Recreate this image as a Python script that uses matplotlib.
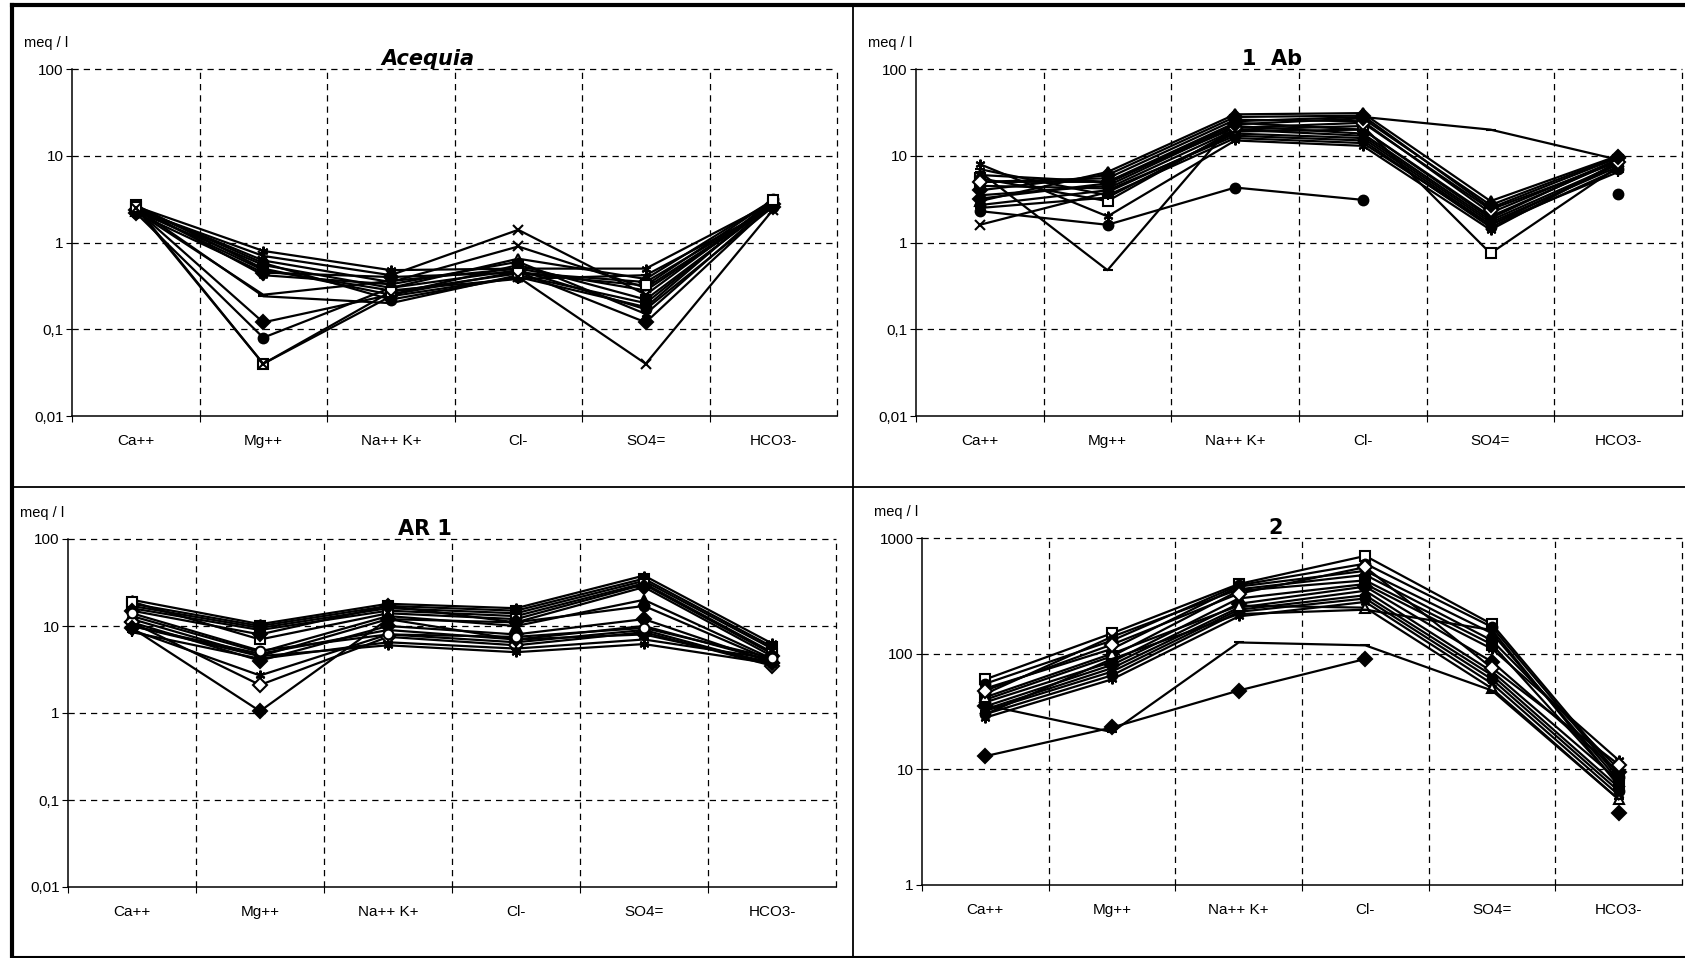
import numpy as np
import matplotlib
matplotlib.use('Agg')
from matplotlib import pyplot as plt
from matplotlib.lines import Line2D

nan = np.nan

# Iones (eje x)
ions = ['Ca++', 'Mg++', 'Na++ K+', 'Cl-', 'SO4=', 'HCO3-']

# Acequia  (Ca, Mg, NaK, Cl, SO4, HCO3) en meq/l
acequia = [
    [2.6, 0.80, 0.48, 0.50, 0.50, 2.9],
    [2.4, 0.70, 0.42, 1.40, 0.25, 3.0],
    [2.5, 0.62, 0.35, 0.90, 0.30, 2.7],
    [2.3, 0.55, 0.30, 0.65, 0.38, 3.1],
    [2.7, 0.50, 0.25, 0.55, 0.22, 2.8],
    [2.2, 0.45, 0.40, 0.45, 0.35, 2.6],
    [2.5, 0.58, 0.22, 0.40, 0.18, 3.2],
    [2.4, 0.48, 0.28, 0.38, 0.42, 2.5],
    [2.6, 0.42, 0.33, 0.60, 0.15, 2.9],
    [2.3, 0.25, 0.36, 0.50, 0.28, 2.7],
    [2.5, 0.24, 0.20, 0.42, 0.20, 3.0],
    [2.4, 0.12, 0.25, 0.46, 0.12, 2.8],
    [2.2, 0.08, 0.30, 0.48, 0.17, 2.6],
    [2.6, 0.04, 0.27, 0.44, 0.32, 3.1],
    [2.5, 0.04, 0.24, 0.40, 0.04, 2.4],
]

# 1 Ab
ab1 = [
    [8.0, 2.0, 15, 13, 1.4, 8.5],
    [6.5, 0.48, 25, 28, 20, 9.0],
    [1.6, 3.8, 18, 16, 1.6, 8.0],
    [2.3, 1.6, 4.3, 3.1, nan, 3.6],
    [5.5, 3.0, 20, 22, 0.75, 7.5],
    [3.0, 6.5, 30, 31, 3.0, 10],
    [4.0, 6.0, 28, 29, 2.5, 9.5],
    [5.0, 5.5, 26, 25, 2.2, 9.0],
    [6.0, 5.0, 24, 20, 2.0, 8.8],
    [3.5, 4.5, 22, 18, 1.8, 8.0],
    [4.5, 4.2, 20, 17, 1.7, 7.5],
    [2.7, 4.0, 17, 15, 1.5, 7.0],
    [7.0, 3.5, 16, 14, 1.6, 6.5],
    [5.0, 5.0, 21, 24, 2.4, 8.5],
    [2.5, 3.3, 19, 20, 1.9, 9.2],
    [3.2, 4.8, 23, 27, 2.7, 9.8],
]

# AR 1
ar1 = [
    [20, 10.5, 18, 16, 38, 6.3],
    [18, 10.0, 17, 15, 35, 5.8],
    [17, 9.5, 16, 14, 33, 5.5],
    [16, 9.0, 15, 13, 31, 5.0],
    [19, 7.0, 14, 12, 30, 4.8],
    [15, 8.0, 17, 11, 28, 4.5],
    [13, 5.0, 13, 10, 20, 4.2],
    [12, 4.5, 12, 11, 17, 4.0],
    [11, 4.0, 10, 8, 12, 3.8],
    [10, 4.8, 9, 7, 10, 4.0],
    [9, 2.7, 8, 6.5, 9, 3.6],
    [11, 2.1, 7.5, 6, 8.5, 3.5],
    [9.5, 1.05, 12, 7, 8, 3.8],
    [8.5, 4.2, 6.5, 5.5, 7, 4.2],
    [10, 4.5, 6.0, 5.0, 6.2, 3.7],
    [14, 5.2, 8.0, 7.5, 9.5, 4.3],
]

# 2
p2 = [
    [60, 150, 400, 700, 180, 9.0],
    [55, 130, 390, 600, 170, 8.5],
    [50, 110, 380, 520, 150, 8.0],
    [45, 140, 360, 480, 130, 10],
    [40, 95, 350, 430, 120, 7.5],
    [38, 85, 300, 400, 110, 12],
    [35, 80, 270, 380, 85, 9.5],
    [33, 75, 250, 350, 70, 8.0],
    [32, 70, 240, 320, 65, 7.0],
    [30, 65, 230, 300, 60, 6.5],
    [28, 60, 210, 280, 55, 6.0],
    [42, 100, 260, 250, 50, 5.5],
    [36, 21, 125, 118, 48, 5.5],
    [13, 23, 48, 90, nan, 4.2],
    [48, 120, 330, 560, 75, 11],
    [30, 90, 220, 240, 160, 7.2],
]

# Marcadores estilo Excel (estilo, no datos)
MK = {
    'D': dict(marker='D', mfc='k'),
    'Do': dict(marker='D', mfc='w'),
    's': dict(marker='s', mfc='k'),
    'so': dict(marker='s', mfc='w'),
    '^': dict(marker='^', mfc='k'),
    '^o': dict(marker='^', mfc='w'),
    'x': dict(marker='x'),
    '*': dict(marker=(6, 2, 0)),
    'o': dict(marker='o', mfc='k'),
    'oo': dict(marker='o', mfc='w'),
    '+': dict(marker='+'),
    '_': dict(marker='_'),
}
marks_acequia = ['*', 'x', 'x', '^o', 's', 'D', 'o', '+', '*', '_', '_', 'D', 'o', 'so', 'x']
marks_ab1 = ['*', '_', 'x', 'o', 'so', '^o', 'D', 's', '^', 'x', '*', 'o', '+', 'Do', '_', 'D']
marks_ar1 = ['*', 's', '^', 'x', 'so', 'D', '^', 'o', 'D', 'x', '*', 'Do', 'D', '+', '*', 'oo']
marks_p2 = ['so', 'o', '^', 'x', 's', '*', 'D', 'x', '+', 'o', '*', '^o', '_', 'D', 'Do', '_']

plt.rcParams['font.family'] = ['Liberation Sans', 'DejaVu Sans']

fig = plt.figure(figsize=(16.85, 9.58), dpi=100)
W, H = 1685., 958.


def box(l, t, r, b):
    return [l / W, 1 - b / H, (r - l) / W, (b - t) / H]


panels = [
    ('Acequia', acequia, marks_acequia, box(72, 69, 837, 416), [0.01, 0.1, 1, 10, 100], ['0,01', '0,1', '1', '10', '100'], 'italic'),
    ('1  Ab', ab1, marks_ab1, box(916, 69, 1682, 416), [0.01, 0.1, 1, 10, 100], ['0,01', '0,1', '1', '10', '100'], 'normal'),
    ('AR 1', ar1, marks_ar1, box(68, 539, 836, 887), [0.01, 0.1, 1, 10, 100], ['0,01', '0,1', '1', '10', '100'], 'normal'),
    ('2', p2, marks_p2, box(922, 538, 1682, 885), [1, 10, 100, 1000], ['1', '10', '100', '1000'], 'normal'),
]

x = np.arange(len(ions)) + 0.5
for title, series, marks, rect, yt, ytl, tstyle in panels:
    ax = fig.add_axes(rect)
    ax.set_yscale('log')
    ax.set_xlim(0, 6)
    ax.set_ylim(yt[0], yt[-1])

    # Rejilla discontinua
    for v in yt[1:]:
        ax.axhline(v, color='k', lw=0.9, ls=(0, (5, 4)), clip_on=False, zorder=1)
    for v in range(1, 7):
        ax.axvline(v, color='k', lw=0.9, ls=(0, (5, 4)), clip_on=False, zorder=1)

    for vals, m in zip(series, marks):
        ax.plot(x, vals, color='k', lw=1.6, ms=7, mec='k', mew=1.5, clip_on=False, zorder=3, **MK[m])

    ax.spines['top'].set_visible(False)
    ax.spines['right'].set_visible(False)
    ax.spines['left'].set_linewidth(1.1)
    ax.spines['bottom'].set_linewidth(1.1)

    ax.set_yticks(yt, ytl)
    ax.yaxis.set_minor_locator(matplotlib.ticker.NullLocator())
    ax.tick_params(axis='y', length=4, width=0.8, pad=2, labelsize=11)

    ax.set_xticks(range(0, 6), [''] * 6)
    ax.set_xticks(x, ions, minor=True)
    ax.tick_params(axis='x', which='major', length=4, width=0.8)
    ax.tick_params(axis='x', which='minor', length=0, pad=13, labelsize=11)

    ax.text(0.465, 1.0, title, transform=ax.transAxes, ha='center', va='bottom',
            fontsize=15, fontweight='bold', fontstyle=tstyle, family='DejaVu Sans')
    ax.annotate('meq / l', xy=(0, 1), xycoords='axes fraction', xytext=(-48, 26),
                textcoords='offset pixels', ha='left', va='center', fontsize=10.5)

# Marco exterior
frame = [
    ([12 / W, 1], [1 - 5 / H, 1 - 5 / H], 3.0),
    ([12 / W, 12 / W], [0, 1 - 5 / H], 3.0),
    ([853 / W, 853 / W], [0, 1 - 5 / H], 1.3),
    ([12 / W, 1], [1 - 487 / H, 1 - 487 / H], 1.3),
    ([12 / W, 1], [1.5 / H, 1.5 / H], 1.5),
]
for xs, ys, lw in frame:
    fig.add_artist(Line2D(xs, ys, transform=fig.transFigure, color='k', lw=lw))

fig.savefig('out.png', dpi=100)
